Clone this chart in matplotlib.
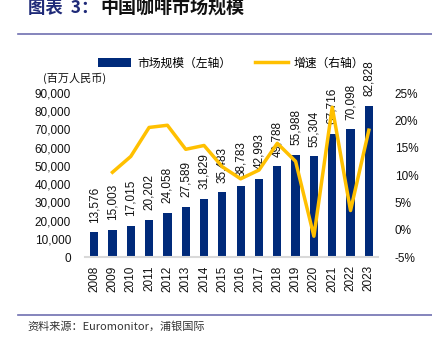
import matplotlib.pyplot as plt
import numpy as np

plt.rcParams['font.family'] = ['Liberation Sans', 'Noto Sans CJK SC']

# 数据
years = ['2008', '2009', '2010', '2011', '2012', '2013', '2014', '2015',
         '2016', '2017', '2018', '2019', '2020', '2021', '2022', '2023']
market = [13576, 15003, 17015, 20202, 24058, 27589, 31829, 35483,
          38783, 42993, 49788, 55988, 55304, 67716, 70098, 82828]
growth = [np.nan, 10.5, 13.4, 18.7, 19.1, 14.7, 15.4, 11.5,
          9.3, 10.9, 15.8, 12.5, -1.2, 22.4, 3.5, 18.2]

navy = '#002A7A'
gold = '#FFC000'
rule = '#7070B0'

fig = plt.figure(figsize=(4.32, 3.43), dpi=100)

# 标题与分隔线
fig.text(28 / 432, 1 - 8 / 343, '图表  3：', fontsize=12.5, fontweight='bold',
         color='#1F2A78', va='center', ha='left', family=['Noto Sans CJK SC'])
fig.text(100 / 432, 1 - 8 / 343, '中国咖啡市场规模', fontsize=13, fontweight='bold',
         color='#111111', va='center', ha='left', family=['Noto Sans CJK SC'])
fig.add_artist(plt.Line2D([18 / 432, 1], [1 - 34 / 343] * 2, color=rule, lw=1.2))
fig.add_artist(plt.Line2D([18 / 432, 1], [1 - 315 / 343] * 2, color=rule, lw=1.2))
fig.text(27 / 432, 1 - 326 / 343, '资料来源：Euromonitor，浦银国际', fontsize=8,
         color='#333333', va='center', ha='left', family=['Noto Sans CJK SC', 'Liberation Sans'])

ax = fig.add_axes([85 / 432, 1 - 257 / 343, 293 / 432, 164 / 343])
x = np.arange(len(years))
bars = ax.bar(x, market, width=0.45, color=navy, zorder=2)
for xi, v in zip(x, market):
    ax.annotate(f'{v:,}', (xi, v), xytext=(0, 7), textcoords='offset points',
                rotation=90, ha='center', va='bottom', fontsize=8.5,
                color='#111111', annotation_clip=False, zorder=5)

ax.set_xlim(-0.5, len(years) - 0.5)
ax.set_ylim(0, 90000)
ax.set_yticks(np.arange(0, 90001, 10000))
ax.set_yticklabels([f'{t:,}' for t in range(0, 90001, 10000)])
ax.set_xticks(x)
ax.set_xticklabels(years, rotation=90)
ax.tick_params(axis='both', length=0, labelsize=8.5, colors='#111111')
ax.tick_params(axis='y', pad=10)
ax.tick_params(axis='x', pad=6)
for s in ['top', 'right', 'left']:
    ax.spines[s].set_visible(False)
ax.spines['bottom'].set_color('#D9D9D9')
ax.spines['bottom'].set_linewidth(1.5)

ax2 = ax.twinx()
line, = ax2.plot(x, growth, color=gold, lw=2.5, zorder=3)
ax2.set_ylim(-5, 25)
ax2.set_yticks(np.arange(-5, 26, 5))
ax2.set_yticklabels([f'{t}%' for t in range(-5, 26, 5)])
ax2.tick_params(axis='y', length=0, labelsize=8.5, colors='#111111', pad=12)
for s in ax2.spines.values():
    s.set_visible(False)

ax.text(-0.034, 1.09, '(百万人民币)', transform=ax.transAxes, fontsize=8,
        ha='center', va='center', family=['Noto Sans CJK SC'], color='#111111')

leg = fig.legend([bars, line], ['市场规模（左轴）', '增速（右轴）'],
                 loc='center', bbox_to_anchor=(231 / 432, 1 - 63 / 343),
                 ncol=2, frameon=False, handlelength=2.8,
                 columnspacing=2.0, handletextpad=0.5,
                 prop={'family': ['Noto Sans CJK SC'], 'size': 8.5})

fig.savefig('out.png', dpi=100)
